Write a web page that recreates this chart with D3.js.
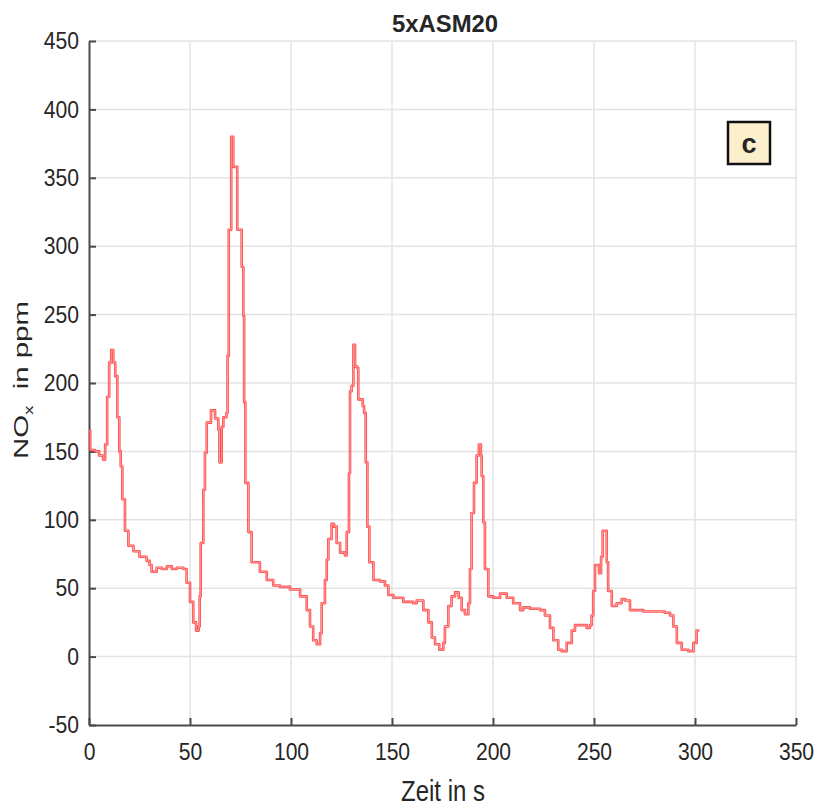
<!DOCTYPE html>
<html>
<head>
<meta charset="utf-8">
<script src="https://cdn.jsdelivr.net/npm/d3@7"></script>
<style>
  body { margin: 0; background: #fff; }
  text { font-family: "Liberation Sans", Arial, sans-serif; fill: #262626; }
</style>
</head>
<body>
<svg id="chart" width="821" height="812"></svg>
<script>
// Time in s, NOx in ppm
const zeit = [
  0, 0.6, 3, 5, 7, 8, 9, 10, 11, 12, 13, 14, 15, 15.7, 16.5, 17.8, 19.5, 22, 25, 28.5,
  30, 31, 33.5, 36, 38.5, 41, 43.5, 46.7, 48.3, 50, 51.6, 53, 54.3, 54.8, 55.3, 56.6, 57.4, 58.3, 60.4, 62.4,
  64, 64.6, 65.3, 65.7, 66.5, 68, 68.6, 69.2, 70.4, 71.4, 73, 73.4, 75.6, 76.4, 76.8, 77.4, 78.9, 80.5, 84.6, 88,
  91.2, 94.5, 99.5, 104.5, 107.8, 109.4, 111, 112.7, 114.4, 115.2, 116.8, 117.7, 118.5, 120.1, 121.3, 122.6, 124.3, 126.7, 127.6, 128.7,
  129.2, 130, 130.9, 131.7, 132.8, 133.3, 135.5, 136.2, 137, 137.8, 138.8, 140.8, 144, 146.5, 148.2, 150.7, 155.6, 160.5, 162.2, 165.5,
  168, 169.7, 171.3, 173.4, 175.4, 176.2, 177.9, 179.5, 181.2, 183, 184.5, 186.1, 187.8, 188.6, 189.4, 190.6, 191.9, 193, 194, 194.4,
  195.2, 196, 197.7, 200.2, 203.5, 206.8, 210, 213.4, 215, 218.3, 223.3, 225.7, 228.2, 229.9, 232.3, 234, 236.5, 239, 240.6, 243,
  246.4, 248, 248.8, 249.6, 250.5, 251.6, 252.5, 253.5, 254.3, 255.8, 256.3, 257, 258.8, 261.2, 263.7, 265.4, 267.8, 271.1, 274.4, 277.7,
  281, 285, 287.6, 289.3, 291, 293.4, 296.7, 299.2, 300.8, 301.5
];
const nox = [
  165, 151, 150, 147, 144, 155, 190, 215, 224, 215, 205, 175, 150, 139, 115, 92, 81, 77, 73, 70,
  67, 62, 65, 64, 66, 64, 65, 64, 54, 40, 25, 19, 22, 44, 83, 122, 149, 171, 180, 174,
  166, 142, 142, 168, 175, 178, 220, 312, 380, 358, 358, 312, 285, 249, 186, 127, 91, 69, 62, 56,
  52, 51, 49, 44, 34, 22, 12, 9, 17, 39, 56, 71, 86, 97, 95, 83, 76, 74, 91, 134,
  194, 198, 228, 212, 211, 188, 183, 178, 142, 95, 69, 56, 55, 52, 45, 43, 40, 39, 41, 34,
  25, 14, 9, 5, 10, 22, 37, 44, 47, 43, 34, 31, 39, 64, 105, 127, 147, 155, 147, 132,
  98, 64, 44, 43, 46, 43, 39, 34, 36, 35, 34, 30, 21, 12, 5, 4, 10, 19, 23, 23,
  21, 23, 30, 48, 67, 67, 61, 73, 92, 92, 69, 48, 37, 39, 42, 41, 34, 34, 33, 33,
  33, 32, 30, 22, 10, 5, 4, 10, 19, 20
];
const xTicks = [0, 50, 100, 150, 200, 250, 300, 350];
const yTicks = [-50, 0, 50, 100, 150, 200, 250, 300, 350, 400, 450];
const title = '5xASM20';
const panelTag = 'c';

const svg = d3.select('#chart');
const margin = { left: 89, right: 25, top: 41, bottom: 87 };
const width = 821 - margin.left - margin.right;
const height = 812 - margin.top - margin.bottom;

const x = d3.scaleLinear().domain([0, 350]).range([0, width]);
const y = d3.scaleLinear().domain([-50, 450]).range([height, 0]);

const g = svg.append('g')
  .attr('transform', `translate(${margin.left},${margin.top})`);

// Grid
g.append('g')
  .selectAll('line')
  .data(xTicks.slice(1))
  .join('line')
    .attr('x1', d => x(d)).attr('x2', d => x(d))
    .attr('y1', 0).attr('y2', height)
    .attr('stroke', '#e3e3e3').attr('stroke-width', 1.5);

g.append('g')
  .selectAll('line')
  .data(yTicks.slice(1))
  .join('line')
    .attr('x1', 0).attr('x2', width)
    .attr('y1', d => y(d)).attr('y2', d => y(d))
    .attr('stroke', '#e3e3e3').attr('stroke-width', 1.5);

// Axes (MATLAB style: ticks pointing inwards, plain hyphen for negatives)
const sx = 0.88;
const plain = d => String(d);

const xAxis = g.append('g')
  .attr('transform', `translate(0,${height})`)
  .call(d3.axisBottom(x).tickValues(xTicks).tickFormat(plain)
    .tickSize(-7).tickSizeOuter(0).tickPadding(18));

const yAxis = g.append('g')
  .call(d3.axisLeft(y).tickValues(yTicks).tickFormat(plain)
    .tickSize(-7).tickSizeOuter(0).tickPadding(10));

[xAxis, yAxis].forEach(ax => {
  ax.select('.domain').attr('stroke', '#4a4a4a').attr('stroke-width', 2);
  ax.selectAll('.tick line').attr('stroke', '#4a4a4a').attr('stroke-width', 2);
  ax.selectAll('.tick text')
    .style('font-size', '24px')
    .attr('fill', '#262626');
});

xAxis.selectAll('.tick text')
  .attr('dy', '0.71em')
  .attr('transform', `scale(${sx},1)`);

yAxis.selectAll('.tick text')
  .attr('x', -10 / sx)
  .attr('transform', `scale(${sx},1)`);

// Trace
const line = d3.line()
  .x((d, i) => x(zeit[i]))
  .y(d => y(d))
  .curve(d3.curveStepAfter);

g.append('path')
  .datum(nox)
  .attr('d', line)
  .attr('fill', 'none')
  .attr('stroke', '#ff2a2a')
  .attr('stroke-opacity', 0.85)
  .attr('stroke-width', 2.6)
  .attr('stroke-linejoin', 'round');

g.append('path')
  .datum(nox)
  .attr('d', line)
  .attr('fill', 'none')
  .attr('stroke', '#ffc4c4')
  .attr('stroke-width', 0.7);

// Title
svg.append('text')
  .attr('x', 445).attr('y', 32)
  .attr('text-anchor', 'middle')
  .attr('textLength', 106).attr('lengthAdjust', 'spacingAndGlyphs')
  .style('font-size', '23px').style('font-weight', 'bold')
  .attr('fill', '#000')
  .text(title);

// Axis labels
svg.append('text')
  .attr('x', 443).attr('y', 801)
  .attr('text-anchor', 'middle')
  .attr('textLength', 84).attr('lengthAdjust', 'spacingAndGlyphs')
  .style('font-size', '29px')
  .text('Zeit in s');

const ylab = svg.append('text')
  .attr('transform', 'translate(28,380) rotate(-90)')
  .attr('text-anchor', 'middle')
  .attr('textLength', 158).attr('lengthAdjust', 'spacingAndGlyphs')
  .style('font-size', '21px');
ylab.append('tspan').text('NO');
ylab.append('tspan').attr('dy', 5).style('font-size', '13px').text('x');
ylab.append('tspan').attr('dy', -5).text('\u00a0 in ppm');

// Panel tag
const tag = svg.append('g');
tag.append('rect')
  .attr('x', 728).attr('y', 122)
  .attr('width', 42).attr('height', 42)
  .attr('fill', '#fcefcc')
  .attr('stroke', '#111').attr('stroke-width', 2.5);
tag.append('text')
  .attr('x', 749).attr('y', 153)
  .attr('text-anchor', 'middle')
  .style('font-size', '27px').style('font-weight', 'bold')
  .attr('fill', '#000')
  .text(panelTag);
</script>
</body>
</html>
